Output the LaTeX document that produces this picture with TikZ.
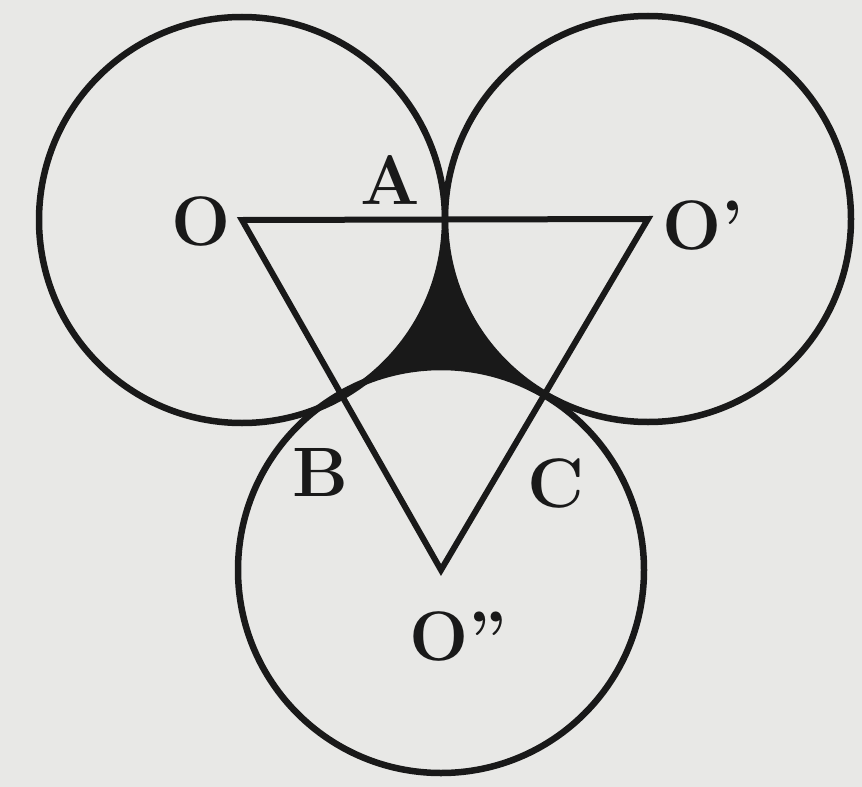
\documentclass[tikz,border=0pt]{standalone}
\definecolor{bg}{RGB}{232,232,230}
\definecolor{ink}{RGB}{25,25,25}
\tikzset{
  ring/.style={draw=ink, line width=6.5pt},
  edge/.style={draw=ink, line width=6pt, line join=miter},
  lab/.style={text=ink, font=\fontsize{70}{70}\selectfont\bfseries, inner sep=0pt}
}
\begin{document}
\begin{tikzpicture}[x=1pt,y=-1pt]
  \fill[bg] (0,0) rectangle (862,787);
  \useasboundingbox (0,0) rectangle (862,787);
  \coordinate (O) at (242,220);
  \coordinate (O1) at (648,219);
  \coordinate (O2) at (441,570);
  % shaded curvilinear triangle
  \fill[ink] (O) -- (O1) -- (O2) -- cycle;
  \fill[bg] (O) circle[radius=203];
  \fill[bg] (O1) circle[radius=203];
  \fill[bg] (O2) circle[radius=203];
  % circles
  \draw[ring] (O) circle[radius=203];
  \draw[ring] (O1) circle[radius=203];
  \draw[ring] (O2) circle[radius=203];
  % triangle
  \draw[edge] (O) -- (O1) -- (O2) -- cycle;
  % labels
  \node[lab] (lO) at (201,221) {O};
  \node[lab] (lA) at (390,180) {A};
  \node[lab] (lO1) at (703,225) {O’};
  \node[lab] (lB) at (320,472) {B};
  \node[lab] (lC) at (556,483) {C};
  \node[lab] (lO2) at (458,636) {O”};
\end{tikzpicture}
\end{document}
